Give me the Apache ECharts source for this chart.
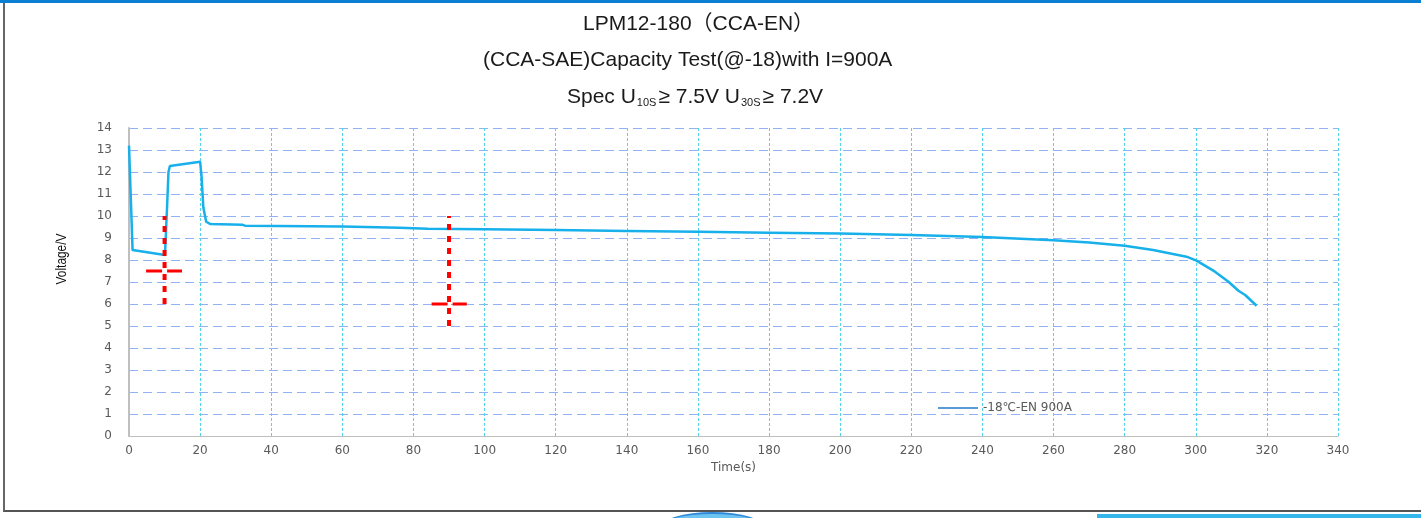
<!DOCTYPE html>
<html>
<head>
<meta charset="utf-8">
<script src="https://cdn.jsdelivr.net/npm/echarts@6/dist/echarts.min.js"></script>
<style>
    html, body { margin: 0; padding: 0; background: #fff; }
    #wrap { position: relative; width: 1421px; height: 518px; overflow: hidden; }
    #topBand { position: absolute; left: 0; top: 0; width: 1421px; height: 3px; background: #0b7fd1; }
    #frame { position: absolute; left: 3px; top: 3px; width: 1418px; height: 509px; border-left: 2px solid #666; border-bottom: 2px solid #555; box-sizing: border-box; }
    #bottomBar { position: absolute; left: 1097px; top: 514px; width: 324px; height: 4px; background: #35b6ea; }
    #bottomBlob { position: absolute; left: 660px; top: 512px; width: 105px; height: 30px; border-radius: 50%; background: #6ec4f0; border-top: 2px solid #2f88d8; }
    #divChart { position: absolute; left: 0; top: 0; width: 1421px; height: 518px; }
</style>
</head>
<body>
<div id="wrap">
    <div id="topBand"></div>
    <div id="bottomBlob"></div>
    <div id="frame"></div>
    <div id="bottomBar"></div>
    <div id="divChart"></div>
</div>
<script>
// 测试数据 (time s / voltage V)
var timeS = [0, 0.75, 1.0, 10.1, 10.3, 10.7, 11.1, 11.5, 20, 20.4, 20.9, 21.7, 22.8, 32, 32.6, 60, 76, 84, 100, 120, 140, 160, 180, 200, 220, 240, 260, 270, 280, 288, 297.4, 300.2, 305.4, 309.2, 312, 313.9, 317.1];
var voltage = [13.2, 9.67, 8.45, 8.23, 8.9, 10.4, 12.0, 12.27, 12.47, 11.8, 10.4, 9.74, 9.64, 9.6, 9.56, 9.52, 9.47, 9.42, 9.40, 9.36, 9.32, 9.28, 9.24, 9.2, 9.14, 9.05, 8.9, 8.8, 8.65, 8.45, 8.15, 7.97, 7.47, 7.01, 6.6, 6.41, 5.92];
var seriesName = '-18℃-EN 900A';

// 红色标记 (10s / 30s 判定)
var mark10Time = [10, 10];
var mark10Volt = [6, 10];
var mark10HTime = [4.8, 14.9];
var mark10HVolt = [7.5, 7.5];
var mark90Time = [90, 90];
var mark90Volt = [5, 10];
var mark90HTime = [85.1, 95];
var mark90HVolt = [6, 6];

var titleLines = ['LPM12-180（CCA-EN）', '(CCA-SAE)Capacity Test(@-18)with I=900A'];

var myChart = echarts.init(document.getElementById('divChart'));

function pairs(xs, ys) {
    var arr = [];
    for (var i = 0; i < xs.length; i++) {
        arr.push([xs[i], ys[i]]);
    }
    return arr;
}

function redLine(xs, ys, dash, w) {
    return {
        type: 'line',
        data: pairs(xs, ys),
        symbol: 'none',
        silent: true,
        z: 5,
        lineStyle: { color: '#ff0000', width: w, type: dash }
    };
}

var axisText = { color: '#595959', fontSize: 12, fontFamily: 'DejaVu Sans' };
var titleFont = 'Liberation Sans, Noto Sans CJK SC';

var option = {
    animation: false,
    title: [
        {
            text: titleLines[0], left: 578, top: 9,
            textStyle: { fontSize: 21, fontWeight: 'normal', color: '#1a1a1a', fontFamily: titleFont }
        },
        {
            text: titleLines[1], left: 478, top: 45,
            textStyle: { fontSize: 21, fontWeight: 'normal', color: '#1a1a1a', fontFamily: titleFont }
        },
        {
            text: 'Spec U{s|10S}≥ 7.5V U{s|30S}≥ 7.2V', left: 562, top: 82,
            textStyle: {
                fontSize: 21, fontWeight: 'normal', color: '#1a1a1a', fontFamily: titleFont,
                rich: { s: { fontSize: 11, color: '#1a1a1a', fontFamily: titleFont, verticalAlign: 'bottom', padding: [7, 2, 0, 1] } }
            }
        }
    ],
    graphic: [
        {
            type: 'text', x: 62, y: 259, rotation: Math.PI / 2, scaleX: 0.85,
            style: { text: 'Voltage/V', fill: '#111', font: '14px "Liberation Sans Narrow", "Liberation Sans"', align: 'center', verticalAlign: 'middle' }
        }
    ],
    legend: {
        data: [seriesName],
        left: 933, top: 397,
        itemWidth: 40, itemHeight: 12, itemGap: 10,
        icon: 'path://M0,5 L40,5 L40,7 L0,7 Z',
        itemStyle: { color: '#5b9bd5' },
        textStyle: { color: '#595959', fontSize: 12, fontFamily: 'DejaVu Sans' }
    },
    grid: { left: 129, right: 83, top: 128, bottom: 82 },
    xAxis: {
        type: 'value', min: 0, max: 340, interval: 20,
        name: 'Time(s)', nameLocation: 'middle', nameGap: 24,
        nameTextStyle: { color: '#595959', fontSize: 12, fontFamily: 'DejaVu Sans' },
        axisLine: { lineStyle: { color: '#bfbfbf', width: 1 } },
        axisTick: { show: false },
        axisLabel: { margin: 9, color: axisText.color, fontSize: axisText.fontSize, fontFamily: axisText.fontFamily },
        splitLine: { show: true, lineStyle: { color: '#55d3ea', type: [3, 2], width: 1 } }
    },
    yAxis: {
        type: 'value', min: 0, max: 14, interval: 1,
        axisLine: { show: true, lineStyle: { color: '#bfbfbf', width: 2 } },
        axisTick: { show: false },
        axisLabel: { margin: 17, color: axisText.color, fontSize: axisText.fontSize, fontFamily: axisText.fontFamily },
        splitLine: { show: true, lineStyle: { color: '#8fb3f3', type: [9, 5], width: 1 } }
    },
    series: [
        {
            name: seriesName,
            type: 'line',
            data: pairs(timeS, voltage),
            symbol: 'none',
            z: 3,
            lineStyle: { color: '#17b0ea', width: 2.5 },
            itemStyle: { color: '#5b9bd5' }
        },
        redLine(mark10Time, mark10Volt, [6, 6], 4),
        redLine(mark10HTime, mark10HVolt, [16, 5], 3),
        redLine(mark90Time, mark90Volt, [6, 6], 4),
        redLine(mark90HTime, mark90HVolt, [16, 5], 3)
    ]
};

myChart.setOption(option);
</script>
</body>
</html>
